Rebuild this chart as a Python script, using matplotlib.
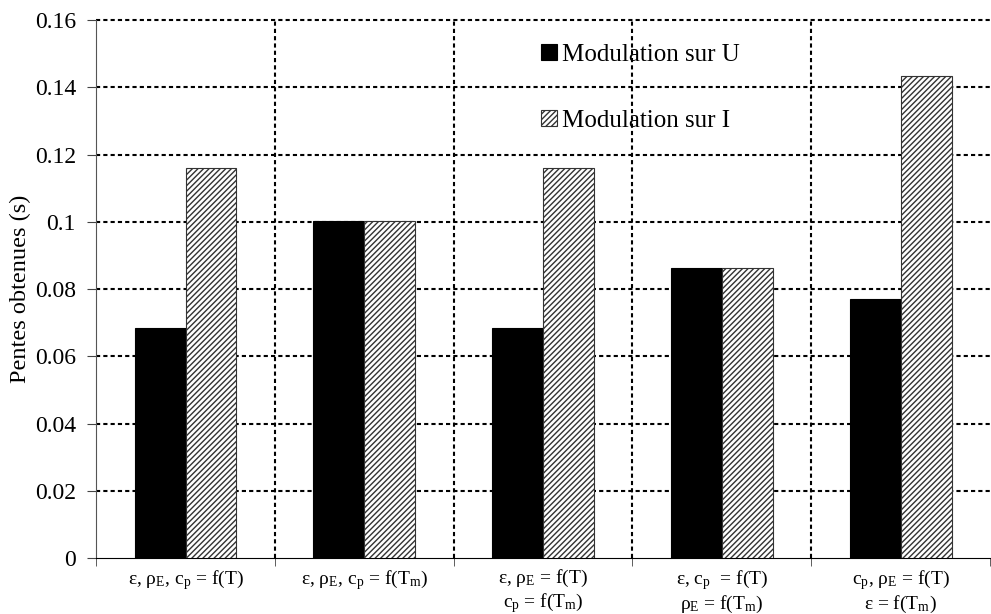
import matplotlib
matplotlib.use("Agg")
import matplotlib.pyplot as plt
import numpy as np
from matplotlib.ticker import FuncFormatter

plt.rcParams["font.family"] = "Liberation Serif"
plt.rcParams["mathtext.fontset"] = "custom"
plt.rcParams["mathtext.rm"] = "Liberation Serif"
plt.rcParams["mathtext.it"] = "Liberation Serif:italic"
plt.rcParams["hatch.linewidth"] = 1.0

categories = [
    "ε, ρ$_\\mathrm{E}$, c$_\\mathrm{p}$ = f(T)",
    "ε, ρ$_\\mathrm{E}$, c$_\\mathrm{p}$ = f(T$_\\mathrm{m}$)",
    "ε, ρ$_\\mathrm{E}$ = f(T)\nc$_\\mathrm{p}$ = f(T$_\\mathrm{m}$)",
    "ε, c$_\\mathrm{p}$  = f(T)\nρ$_\\mathrm{E}$ = f(T$_\\mathrm{m}$)",
    "c$_\\mathrm{p}$, ρ$_\\mathrm{E}$ = f(T)\nε = f(T$_\\mathrm{m}$)",
]
modul_u = [0.0685, 0.1003, 0.0685, 0.0862, 0.0772]
modul_i = [0.1162, 0.1003, 0.1162, 0.0862, 0.1434]

N = len(categories)
ind = np.arange(N)
width = 0.285

fig = plt.figure(figsize=(9.91, 6.14), dpi=100)
ax = fig.add_axes([0.097, 0.091, 0.902, 0.876])

ax.bar(ind - width / 2, modul_u, width, color="black", edgecolor="black",
       linewidth=0.8, label="Modulation sur U", zorder=3)
ax.bar(ind + width / 2, modul_i, width, color="white", edgecolor="#333333",
       hatch="//////", linewidth=0.8, label="Modulation sur I", zorder=3)

ax.set_xlim(-0.5, N - 0.5)
ax.set_ylim(0, 0.16)
ax.set_yticks(np.arange(0, 0.161, 0.02))
ax.yaxis.set_major_formatter(FuncFormatter(lambda v, p: "%g" % round(v, 2)))

# horizontal dotted grid
for y in np.arange(0.02, 0.161, 0.02):
    ax.axhline(y, color="black", linestyle=(0, (2, 1.5)), linewidth=1.5,
               zorder=1, clip_on=False)
# vertical dotted separators
for x in np.arange(0.5, N - 0.5, 1):
    ax.axvline(x, color="black", linestyle=(0, (2, 1.5)), linewidth=1.5,
               zorder=1, clip_on=False)

ax.set_xticks(ind)
ax.set_xticklabels(categories, fontsize=14, linespacing=1.15)
ax.tick_params(axis="x", which="major", length=0, pad=7)
ax.set_xticks(np.arange(-0.5, N, 1), minor=True)
ax.tick_params(axis="x", which="minor", length=6, direction="out", color="#444444")
ax.tick_params(axis="y", labelsize=17, length=6.5, direction="out", pad=8,
               color="#444444")

for s in ["top", "right"]:
    ax.spines[s].set_visible(False)
ax.spines["left"].set_color("#555555")

ax.set_ylabel("Pentes obtenues (s)", fontsize=17.5, labelpad=3)

ax.legend(loc="upper left", bbox_to_anchor=(0.473, 0.998), frameon=False,
          fontsize=18, labelspacing=1.75, handlelength=0.62, handleheight=0.62,
          handletextpad=0.2)

fig.savefig("out.png", dpi=100)
